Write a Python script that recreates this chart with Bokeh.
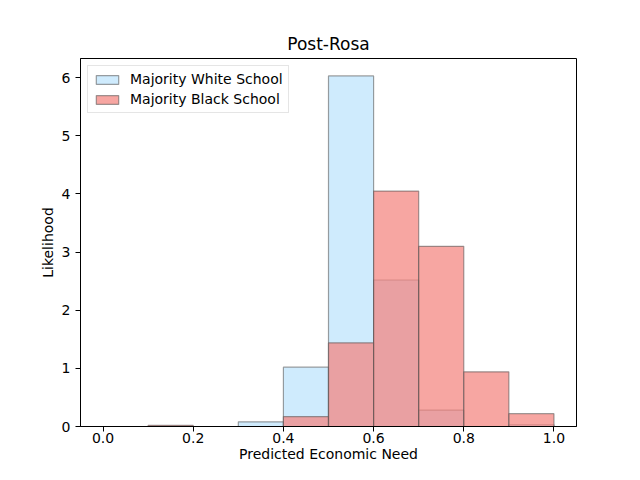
from bokeh.plotting import figure
from bokeh.models import Range1d, FixedTicker, Legend, LegendItem, CustomJSTickFormatter
from bokeh.embed import file_html
from bokeh.resources import INLINE

bin_left = [0.0, 0.1, 0.2, 0.3, 0.4, 0.5, 0.6, 0.7, 0.8, 0.9]
bin_right = [0.1, 0.2, 0.3, 0.4, 0.5, 0.6, 0.7, 0.8, 0.9, 1.0]
white_density = [0.0, 0.0, 0.0, 0.08, 1.02, 6.03, 2.52, 0.28, 0.0, 0.03]
black_density = [0.0, 0.02, 0.0, 0.0, 0.17, 1.44, 4.05, 3.10, 0.94, 0.22]

FONT = "DejaVu Sans"

p = figure(width=624, height=464, output_backend="svg", toolbar_location=None,
           x_range=Range1d(-0.05, 1.05), y_range=Range1d(0, 6.33),
           min_border_left=80, min_border_right=48, min_border_top=58, min_border_bottom=37)

zeros = [0] * len(bin_left)
rw = p.quad(left=bin_left, right=bin_right, bottom=zeros, top=white_density,
            fill_color="#87CEFA", fill_alpha=0.4, line_color="#505050", line_alpha=0.55, line_width=1.2)
rb = p.quad(left=bin_left, right=bin_right, bottom=zeros, top=black_density,
            fill_color="#F4807A", fill_alpha=0.7, line_color="#505050", line_alpha=0.55, line_width=1.2)

p.title.text = "Post-Rosa"
p.title.align = "center"
p.title.text_font = FONT
p.title.text_font_size = "17px"
p.title.text_font_style = "normal"
p.title.text_color = "black"

p.xaxis.axis_label = "Predicted Economic Need"
p.yaxis.axis_label = "Likelihood"
p.xaxis.ticker = FixedTicker(ticks=[0.0, 0.2, 0.4, 0.6, 0.8, 1.0])
p.yaxis.ticker = FixedTicker(ticks=[0, 1, 2, 3, 4, 5, 6])
p.xaxis.formatter = CustomJSTickFormatter(code="return tick.toFixed(1);")
for ax in (p.xaxis, p.yaxis):
    ax.axis_label_text_font = FONT
    ax.axis_label_text_font_size = "14px"
    ax.axis_label_text_font_style = "normal"
    ax.axis_label_text_color = "black"
    ax.major_label_text_font = FONT
    ax.major_label_text_font_size = "14px"
    ax.major_label_text_color = "black"
    ax.minor_tick_line_color = None
    ax.major_tick_out = 5
    ax.major_tick_in = 0
    ax.axis_line_color = "black"
    ax.major_tick_line_color = "black"
p.xaxis.axis_label_standoff = 0
p.xaxis.major_label_standoff = 1
p.yaxis.axis_label_standoff = 3

p.xgrid.visible = False
p.ygrid.visible = False
p.outline_line_color = "black"
p.outline_line_alpha = 1.0

legend = Legend(items=[LegendItem(label="Majority White School", renderers=[rw]),
                       LegendItem(label="Majority Black School", renderers=[rb])],
                location="top_left")
legend.label_text_font = FONT
legend.label_text_font_size = "14px"
legend.label_text_color = "black"
legend.border_line_color = "#cccccc"
legend.border_line_width = 1
legend.background_fill_alpha = 0.8
legend.glyph_width = 28
legend.glyph_height = 11
legend.spacing = 4
legend.padding = 5
legend.margin = 7
legend.label_standoff = 9
p.add_layout(legend)

open("out.html", "w").write(file_html(p, INLINE))
